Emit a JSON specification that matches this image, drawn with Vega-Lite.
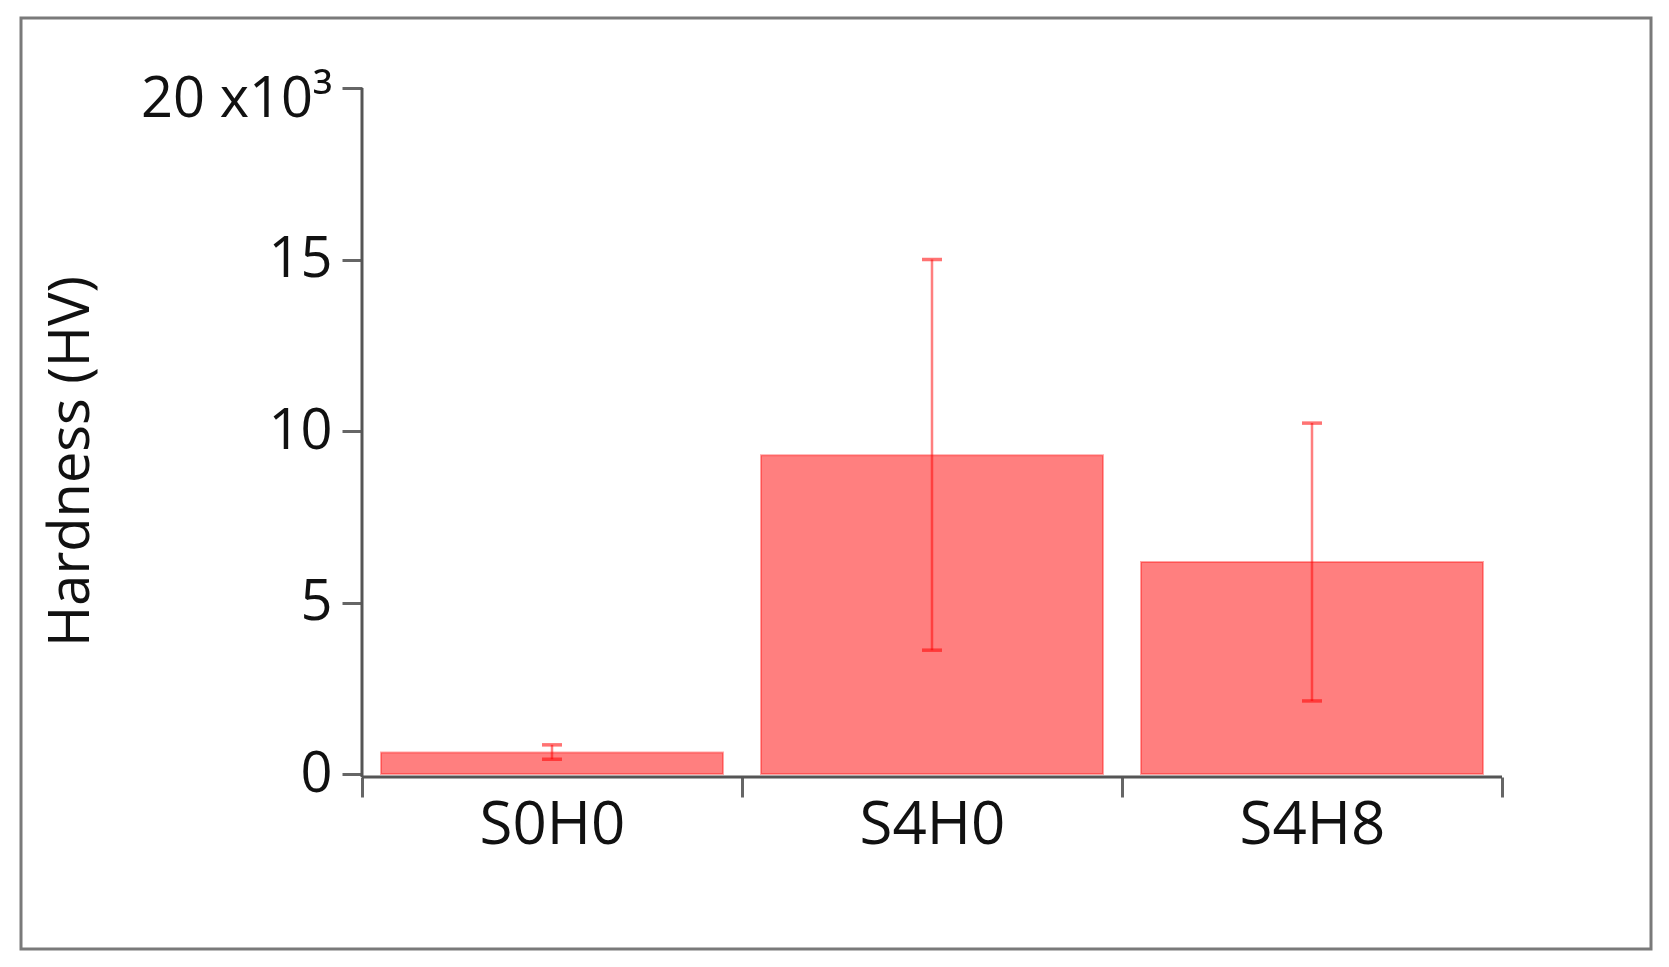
{
  "$schema": "https://vega.github.io/schema/vega-lite/v6.json",
  "width": 1630,
  "height": 931,
  "autosize": {"type": "none"},
  "padding": {"left": 21, "top": 18, "right": 18, "bottom": 18},
  "background": "white",
  "config": {
    "view": {"stroke": "#7a7a7a", "strokeWidth": 3},
    "font": "Open Sans"
  },
  "datasets": {
    "hardness": [
      {"sample": "S0H0", "mean": 630, "lo": 430, "hi": 850},
      {"sample": "S4H0", "mean": 9290, "lo": 3610, "hi": 15000},
      {"sample": "S4H8", "mean": 6180, "lo": 2130, "hi": 10230}
    ]
  },
  "layer": [
    {
      "data": {"name": "hardness"},
      "mark": {"type": "bar", "width": {"band": 0.9}, "fill": "#ff0000", "fillOpacity": 0.5, "stroke": "#ff0000", "strokeOpacity": 0.35, "strokeWidth": 2},
      "encoding": {
        "x": {
          "field": "sample", "type": "nominal", "sort": null,
          "scale": {"type": "band", "domain": ["S0H0", "S4H0", "S4H8"], "paddingInner": 0, "paddingOuter": 0.644737, "align": 0.695918, "round": false},
          "axis": {
            "orient": "bottom", "offset": -172, "domain": false, "grid": false,
            "tickBand": "extent", "tickSize": 20, "tickWidth": 3, "tickColor": "#666666",
            "labelFont": "Open Sans", "labelFontSize": 60, "labelColor": "#111111", "labelPadding": -1, "labelAngle": 0,
            "title": null
          }
        },
        "y": {
          "field": "mean", "type": "quantitative",
          "scale": {"domain": [-5102, 22041], "nice": false, "zero": false},
          "axis": {
            "orient": "left", "offset": -341, "domain": false, "grid": false,
            "values": [0, 5000, 10000, 15000, 20000],
            "tickSize": 20, "tickWidth": 3, "tickColor": "#666666",
            "labelFont": "Open Sans", "labelFontSize": 56, "labelColor": "#111111", "labelPadding": 10, "labelLimit": 400,
            "labelExpr": "datum.value == 20000 ? '20 x10³' : format(datum.value / 1000, 'd')",
            "labelOffset": {"condition": {"test": "datum.value == 20000", "value": 11}, "value": 0},
            "title": "Hardness (HV)", "titleFont": "Open Sans", "titleFontSize": 56, "titleFontWeight": "normal",
            "titleColor": "#111111", "titlePadding": 62, "titleY": 443
          }
        }
      }
    },
    {
      "data": {"name": "hardness"},
      "mark": {"type": "rule", "color": "#ff0000", "opacity": 0.5, "strokeWidth": 2.5},
      "encoding": {
        "x": {"field": "sample", "type": "nominal"},
        "y": {"field": "lo", "type": "quantitative", "title": "Hardness (HV)"},
        "y2": {"field": "hi"}
      }
    },
    {
      "data": {"name": "hardness"},
      "mark": {"type": "tick", "orient": "horizontal", "size": 20, "thickness": 3.5, "color": "#ff0000", "opacity": 0.55},
      "encoding": {
        "x": {"field": "sample", "type": "nominal"},
        "y": {"field": "lo", "type": "quantitative", "title": "Hardness (HV)"}
      }
    },
    {
      "data": {"name": "hardness"},
      "mark": {"type": "tick", "orient": "horizontal", "size": 20, "thickness": 3.5, "color": "#ff0000", "opacity": 0.55},
      "encoding": {
        "x": {"field": "sample", "type": "nominal"},
        "y": {"field": "hi", "type": "quantitative", "title": "Hardness (HV)"}
      }
    },
    {
      "data": {"values": [{}]},
      "mark": {"type": "rule", "color": "#555555", "strokeWidth": 3},
      "encoding": {
        "x": {"datum": "S0H0", "type": "nominal", "bandPosition": 0},
        "y": {"datum": 20000, "type": "quantitative"},
        "y2": {"datum": -90}
      }
    },
    {
      "data": {"values": [{}]},
      "mark": {"type": "rule", "color": "#555555", "strokeWidth": 3},
      "encoding": {
        "x": {"datum": "S0H0", "type": "nominal", "bandPosition": 0},
        "x2": {"datum": "S4H8", "bandPosition": 1},
        "y": {"datum": -90, "type": "quantitative"}
      }
    }
  ]
}
